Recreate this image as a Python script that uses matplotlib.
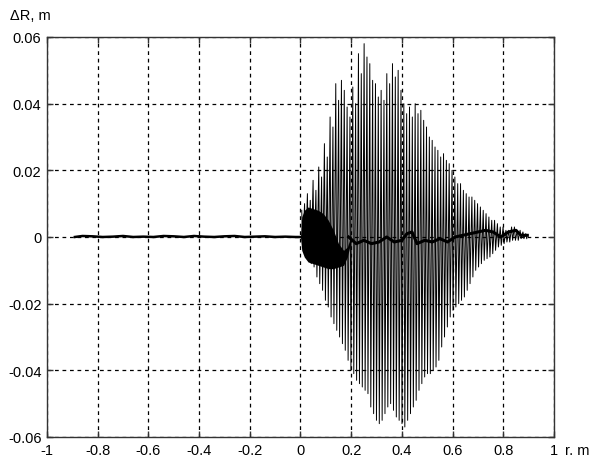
import numpy as np
import matplotlib.pyplot as plt

# flat part of the record, r < 0
r_flat = [-0.89, -0.86, -0.82, -0.78, -0.74, -0.70, -0.66, -0.62, -0.58, -0.54, -0.50,
          -0.46, -0.42, -0.38, -0.34, -0.30, -0.26, -0.22, -0.18, -0.14, -0.10, -0.06, -0.02, 0.0]
dr_flat = [0.0, 0.0003, 0.0002, 0.0, 0.0001, 0.0003, 0.0, 0.0001, 0.0, 0.0003, 0.0002,
           0.0, 0.0003, 0.0001, 0.0, 0.0002, 0.0003, 0.0, 0.0001, 0.0002, 0.0, 0.0001, 0.0, 0.0]

# oscillation peaks, r from 0 to 0.9 (x 1e-3 m)
peaks_up = [8, 10, 13, 11, 17, 14, 21, 18, 28, 24,
            36, 33, 46, 41, 47, 44, 39, 36, 45, 40,
            55, 49, 58, 54, 52, 47, 46, 42, 44, 41,
            49, 46, 52, 48, 50, 44, 40, 37, 39, 36,
            40, 37, 38, 35, 33, 30, 29, 27, 26, 24,
            25, 23, 22, 20, 18, 16, 16, 14, 13, 12,
            12, 11, 10, 9, 8, 7, 6, 5, 5, 4,
            3, 3, 2, 2, 3, 3, 2, 2, 1.5, 1]
peaks_lo = [-3, -5, -6, -8, -9, -12, -14, -16, -19, -21,
            -24, -26, -28, -30, -32, -34, -37, -40, -41, -43,
            -44, -45, -46, -47, -51, -53, -55, -56, -55, -53,
            -51, -50, -52, -54, -55, -56, -57, -55, -53, -51,
            -49, -46, -44, -42, -41, -41, -40, -39, -37, -33,
            -30, -27, -24, -22, -21, -20, -19, -18, -16, -14,
            -12, -10, -9, -8, -7, -6.5, -6, -5, -4, -3,
            -2.5, -2, -1.5, -1.5, -1, -1, -1, -0.5, -0.5, -0.5]

# dense transient near r = 0
r_blob = [0.0, 0.005, 0.015, 0.03, 0.05, 0.07, 0.09, 0.11, 0.13, 0.15, 0.17, 0.185, 0.20]
blob_top = [0.0, 0.006, 0.008, 0.009, 0.0085, 0.008, 0.007, 0.005, 0.002, -0.002, -0.004, -0.003, 0.0005]
blob_bot = [0.0, -0.004, -0.006, -0.0075, -0.008, -0.0085, -0.009, -0.0095, -0.0095, -0.009, -0.0085, -0.006, -0.001]

# mean line of the oscillation
r_mid = [0.19, 0.22, 0.25, 0.28, 0.31, 0.34, 0.37, 0.40, 0.42, 0.44, 0.46, 0.49, 0.52,
         0.55, 0.58, 0.61, 0.64, 0.67, 0.70, 0.73, 0.76, 0.79, 0.82, 0.85, 0.87, 0.895]
dr_mid = [0.0, -0.002, -0.001, -0.002, -0.0015, 0.0, -0.0015, -0.001, 0.001, 0.0015, -0.002,
          -0.001, -0.0015, -0.0005, -0.0015, 0.0, 0.0005, 0.001, 0.0015, 0.002, 0.0015, 0.0,
          0.0015, 0.002, 0.0005, 0.0005]

xticks = [-1, -0.8, -0.6, -0.4, -0.2, 0, 0.2, 0.4, 0.6, 0.8, 1]
xlabels = ['-1', '-0.8', '-0.6', '-0.4', '-0.2', '0', '0.2', '0.4', '0.6', '0.8', '1']
yticks = [-0.06, -0.04, -0.02, 0, 0.02, 0.04, 0.06]
ylabels = ['-0.06', '-0.04', '-0.02', '0', '0.02', '0.04', '0.06']

plt.rcParams['font.family'] = ['Liberation Sans', 'DejaVu Sans']

fig = plt.figure(figsize=(5.97, 4.56), dpi=100)
ax = fig.add_axes([0.0787, 0.0395, 0.8492, 0.8772])

# spikes: each up peak followed closely by its down peak
step = 0.895 / len(peaks_up)
r_up = 0.005 + step * np.arange(len(peaks_up))
r_osc = np.empty(2 * len(peaks_up))
r_osc[0::2] = r_up
r_osc[1::2] = r_up + 0.35 * step
vals = np.empty(2 * len(peaks_up))
vals[0::2] = np.array(peaks_up) / 1000.0
vals[1::2] = np.array(peaks_lo) / 1000.0

ax.plot(r_flat, dr_flat, color='black', lw=1.8)
ax.fill_between(r_blob, blob_bot, blob_top, color='black', lw=0)
ax.plot(r_osc, vals, color='black', lw=0.7)
ax.plot(r_mid, dr_mid, color='black', lw=2.2)

ax.set_xlim(-1, 1)
ax.set_ylim(-0.06, 0.06)
ax.set_xticks(xticks)
ax.set_xticklabels(xlabels)
ax.set_yticks(yticks)
ax.set_yticklabels(ylabels)
ax.tick_params(direction='in', length=4, width=1, top=True, right=True,
               labelsize=10.5, colors='#333333', labelcolor='black', pad=4)
ax.grid(True, color='black', linestyle=(0, (3, 3)), linewidth=0.9)
for s in ax.spines.values():
    s.set_color('#333333')
    s.set_linewidth(1)

fig.text(0.017, 0.965, 'ΔR, m', fontsize=10.5, ha='left', va='center')
fig.text(0.946, 0.012, 'r, m', fontsize=10.5, ha='left', va='center')

fig.savefig('out.png', dpi=100)
